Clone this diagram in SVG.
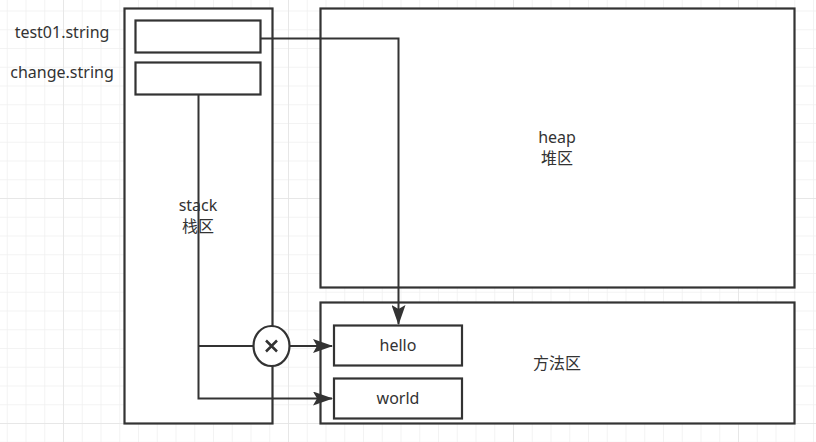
<svg xmlns="http://www.w3.org/2000/svg" width="816" height="442" viewBox="0 0 816 442">
  <defs>
    <pattern id="minor" x="6.75" y="10.5" width="18.75" height="18.75" patternUnits="userSpaceOnUse">
      <path d="M0 0 H18.75 M0 0 V18.75" fill="none" stroke="#f0f0f0" stroke-width="1.5"/>
    </pattern>
    <pattern id="major" x="63" y="198" width="225" height="225" patternUnits="userSpaceOnUse">
      <path d="M0 0 H225 M0 0 V225" fill="none" stroke="#e4e4e4" stroke-width="1.5"/>
    </pattern>
    <marker id="arrow" viewBox="0 0 20 14" refX="19" refY="7" markerWidth="20" markerHeight="14" markerUnits="userSpaceOnUse" orient="auto">
      <path d="M0 0 L20 7 L0 14 L4 7 Z" fill="#333"/>
    </marker>
    <style>
      .box { fill: #fff; stroke: #333; stroke-width: 2.2; }
      .line { fill: none; stroke: #333; stroke-width: 2; }
      .t { font-family: "Noto Sans", "Noto Sans CJK SC", sans-serif; font-size: 16px; fill: #333; text-anchor: middle; }
    </style>
  </defs>
  <rect width="816" height="442" fill="#fff"/>
  <rect width="816" height="442" fill="url(#minor)"/>
  <rect width="816" height="442" fill="url(#major)"/>

  <g id="stack">
    <rect class="box" x="124.5" y="8.5" width="148" height="415"/>
    <text class="t" x="198" y="211">stack</text>
    <text class="t" x="198" y="232">栈区</text>
  </g>
  <g id="test01">
    <rect class="box" x="135.5" y="20.5" width="125" height="32"/>
    <text class="t" x="62" y="38">test01.string</text>
  </g>
  <g id="change">
    <rect class="box" x="135.5" y="62.5" width="125" height="32"/>
    <text class="t" x="62" y="78">change.string</text>
  </g>
  <g id="heap">
    <rect class="box" x="320.5" y="8.5" width="474" height="279"/>
    <text class="t" x="557" y="143">heap</text>
    <text class="t" x="557" y="164">堆区</text>
  </g>
  <g id="method">
    <rect class="box" x="320.5" y="302.5" width="474" height="121"/>
    <text class="t" x="557" y="369">方法区</text>
  </g>
  <g id="hello">
    <rect class="box" x="334" y="325.5" width="128" height="40"/>
    <text class="t" x="398" y="351">hello</text>
  </g>
  <g id="world">
    <rect class="box" x="334" y="378.5" width="128" height="40"/>
    <text class="t" x="398" y="404">world</text>
  </g>

  <g id="connectors">
    <path class="line" d="M261 38.5 H398.5 V324" marker-end="url(#arrow)"/>
    <path class="line" d="M198.5 94.5 V398.5 H332" marker-end="url(#arrow)"/>
    <path class="line" d="M198.5 346 H253"/>
    <path class="line" d="M290 346 H332" marker-end="url(#arrow)"/>
  </g>
  <g id="cross">
    <ellipse cx="271.5" cy="346" rx="18" ry="20" fill="#fff" stroke="#333" stroke-width="2.2"/>
    <path d="M266 340.5 L277 351.5 M277 340.5 L266 351.5" fill="none" stroke="#333" stroke-width="2.5"/>
  </g>
</svg>
